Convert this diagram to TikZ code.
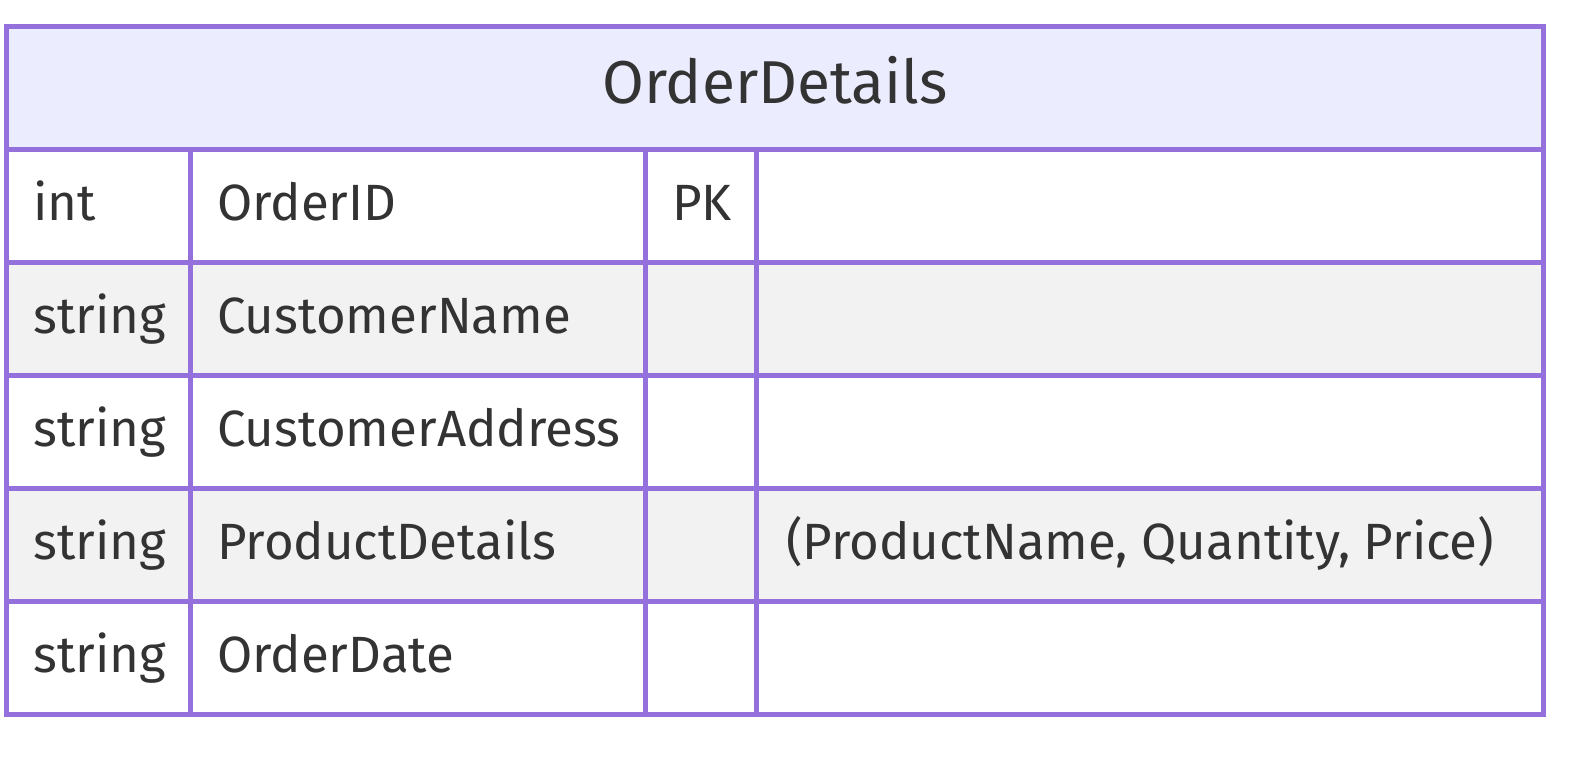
\documentclass[tikz,border=0pt]{standalone}
\usepackage{fontspec}
\setmainfont{Fira Sans}
\definecolor{txt}{HTML}{333333}
\definecolor{edge}{HTML}{9370DB}
\definecolor{headfill}{HTML}{ECECFF}
\definecolor{rowgray}{HTML}{F2F2F2}
\tikzset{
  cell/.style={draw=edge, line width=5pt, inner sep=0pt, outer sep=0pt},
  celltext/.style={anchor=base west, inner sep=0pt, text=txt, font=\fontsize{51}{61}\selectfont},
  headtext/.style={anchor=base, inner sep=0pt, text=txt, font=\fontsize{60.5}{72}\selectfont},
}
\begin{document}
\begin{tikzpicture}[x=1pt,y=-1pt]
\useasboundingbox (0,0) rectangle (1576,764);
% header
\path[fill=headfill] (6.5,26.5) rectangle (1543.5,149.5);
\node[headtext] (title) at (775,103) {OrderDetails};
% row fills
\path[fill=white] (6.5,149.5) rectangle (1543.5,262.5);
\path[fill=rowgray] (6.5,262.5) rectangle (1543.5,375.5);
\path[fill=white] (6.5,375.5) rectangle (1543.5,488.5);
\path[fill=rowgray] (6.5,488.5) rectangle (1543.5,601.5);
\path[fill=white] (6.5,601.5) rectangle (1543.5,714.5);
% grid
\draw[cell] (6.5,26.5) rectangle (1543.5,714.5);
\foreach \y in {149.5,262.5,375.5,488.5,601.5}
  \draw[cell] (6.5,\y) -- (1543.5,\y);
\foreach \x in {190.5,645.5,756.5}
  \draw[cell] (\x,149.5) -- (\x,714.5);
% texts
\node[celltext] (t1) at (33,220) {int};
\node[celltext] (n1) at (217,220) {OrderID};
\node[celltext] (k1) at (672,220) {PK};
\node[celltext] (t2) at (33,333) {string};
\node[celltext] (n2) at (217,333) {CustomerName};
\node[celltext] (t3) at (33,446) {string};
\node[celltext] (n3) at (217,446) {CustomerAddress};
\node[celltext] (t4) at (33,559) {string};
\node[celltext] (n4) at (217,559) {ProductDetails};
\node[celltext] (c4) at (786,559) {(ProductName, Quantity, Price)};
\node[celltext] (t5) at (33,672) {string};
\node[celltext] (n5) at (217,672) {OrderDate};
\end{tikzpicture}
\end{document}
